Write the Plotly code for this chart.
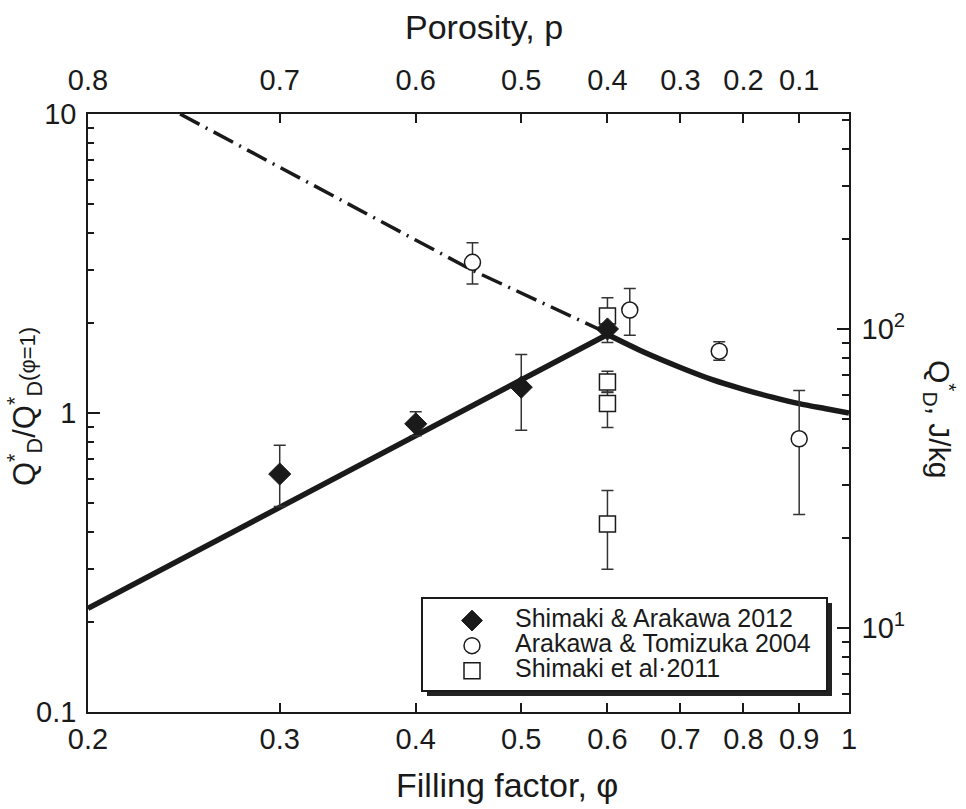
import math
import plotly.graph_objects as go

# ---------------- data ----------------
# Shimaki & Arakawa 2012 (filled diamonds)
sa_phi = [0.3, 0.4, 0.5, 0.6]
sa_q = [0.625, 0.92, 1.22, 1.91]
sa_err_plus = [0.155, 0.09, 0.35, 0.0]
sa_err_minus = [0.138, 0.08, 0.345, 0.0]

# Arakawa & Tomizuka 2004 (open circles)
at_phi = [0.451, 0.629, 0.760, 0.90]
at_q = [3.19, 2.21, 1.61, 0.82]
at_err_plus = [0.52, 0.40, 0.12, 0.37]
at_err_minus = [0.49, 0.39, 0.11, 0.362]

# Shimaki et al. 2011 (open squares)
s11_phi = [0.6, 0.6, 0.6, 0.6]
s11_q = [2.11, 1.27, 1.075, 0.425]
s11_err_plus = [0.32, 0.11, 0.10, 0.126]
s11_err_minus = [0.39, 0.10, 0.18, 0.125]

# model curves
solid_phi = [0.2, 0.6, 0.65, 0.70, 0.75, 0.80, 0.85, 0.90, 0.95, 1.0]
solid_q = [0.222, 1.83, 1.59, 1.42, 1.29, 1.20, 1.13, 1.075, 1.035, 1.0]
dash_phi = [0.243, 0.375, 0.451, 0.6]
dash_q = [10.0, 4.3, 3.0, 1.85]

# axis ticks
x_tickvals = [0.2, 0.3, 0.4, 0.5, 0.6, 0.7, 0.8, 0.9, 1.0]
x_ticktext = ["0.2", "0.3", "0.4", "0.5", "0.6", "0.7", "0.8", "0.9", "1"]
top_tickvals = [0.2, 0.3, 0.4, 0.5, 0.6, 0.7, 0.8, 0.9]
top_ticktext = ["0.8", "0.7", "0.6", "0.5", "0.4", "0.3", "0.2", "0.1"]
y_tickvals = [0.1, 1, 10]
y_ticktext = ["0.1", "1", "10"]
y_minor = [0.2, 0.3, 0.4, 0.5, 0.6, 0.7, 0.8, 0.9, 2, 3, 4, 5, 6, 7, 8, 9]
qd_tickvals = [10, 100]
qd_ticktext = ["10<sup>1</sup>", "10<sup>2</sup>"]
qd_minor = [6, 7, 8, 9, 20, 30, 40, 50, 60, 70, 80, 90, 200, 300, 400, 500]
qd_ref = 52.3  # Q_D*(phi=1) in J/kg, maps left axis onto right axis

FONT = "Liberation Sans, Arial, Helvetica, sans-serif"
INK = "#1a1a1a"

fig = go.Figure()

fig.add_trace(go.Scatter(
    x=dash_phi, y=dash_q, mode="lines", showlegend=False,
    line=dict(color=INK, width=3.5, dash="22px,7px,2px,7px"), hoverinfo="skip"))
# rising branch (straight in log-log) and smooth falling branch
fig.add_trace(go.Scatter(
    x=solid_phi[:2], y=solid_q[:2], mode="lines", showlegend=False,
    line=dict(color=INK, width=5.5), hoverinfo="skip"))
fig.add_trace(go.Scatter(
    x=solid_phi[1:], y=solid_q[1:], mode="lines", showlegend=False,
    line=dict(color=INK, width=5.5, shape="spline", smoothing=0.8), hoverinfo="skip"))

err_style = dict(type="data", symmetric=False, color="#333333", thickness=1.5, width=6)
LEG = "<span style='font-size:25px'>%s</span>"

fig.add_trace(go.Scatter(
    x=at_phi, y=at_q, mode="markers",
    name=LEG % "Arakawa & Tomizuka 2004", legendrank=2,
    marker=dict(symbol="circle", size=16, color="white", line=dict(color=INK, width=1.5)),
    error_y=dict(array=at_err_plus, arrayminus=at_err_minus, **err_style)))
fig.add_trace(go.Scatter(
    x=s11_phi, y=s11_q, mode="markers",
    name=LEG % "Shimaki et al·2011", legendrank=3,
    marker=dict(symbol="square", size=16, color="white", line=dict(color=INK, width=1.5)),
    error_y=dict(array=s11_err_plus, arrayminus=s11_err_minus, **err_style)))
fig.add_trace(go.Scatter(
    x=sa_phi, y=sa_q, mode="markers",
    name=LEG % "Shimaki & Arakawa 2012", legendrank=1,
    marker=dict(symbol="diamond", size=17, color=INK, line=dict(color=INK, width=1)),
    error_y=dict(array=sa_err_plus, arrayminus=sa_err_minus, **err_style)))

# empty trace that activates the porosity (top) and Q_D (right) axes
fig.add_trace(go.Scatter(x=[None], y=[None], xaxis="x2", yaxis="y2",
                         showlegend=False, hoverinfo="skip"))

L, R, T, B = 88, 966 - 849, 114, 809 - 712
W, H = 966 - L - R, 809 - T - B


def px_x(p):
    return (p - L) / W


def px_y(p):
    return (809 - B - p) / H


axis_common = dict(
    showgrid=False, zeroline=False, showline=True, linecolor=INK, linewidth=1.5,
    ticks="inside", tickcolor=INK, tickwidth=1.5,
    tickfont=dict(family=FONT, size=29, color=INK),
)

xr = [math.log10(0.2), 0]
fig.update_layout(
    width=966, height=809,
    margin=dict(l=L, r=R, t=T, b=B),
    paper_bgcolor="white", plot_bgcolor="white",
    font=dict(family=FONT, color=INK),
    xaxis=dict(type="log", range=xr, tickmode="array", tickvals=x_tickvals,
               ticktext=x_ticktext, ticklen=9, ticklabelstandoff=0, **axis_common),
    xaxis2=dict(type="log", range=xr, overlaying="x", side="top", anchor="y",
                tickmode="array", tickvals=top_tickvals, ticktext=top_ticktext,
                ticklen=9, ticklabelstandoff=11, **axis_common),
    yaxis=dict(type="log", range=[-1, 1], tickmode="array", tickvals=y_tickvals,
               ticktext=y_ticktext, ticklen=12, ticklabelstandoff=4,
               minor=dict(tickmode="array", tickvals=y_minor, ticklen=6,
                          ticks="inside", tickcolor=INK, tickwidth=1.5),
               **axis_common),
    yaxis2=dict(type="log", overlaying="y", side="right", anchor="x",
                range=[-1 + math.log10(qd_ref), 1 + math.log10(qd_ref)],
                tickmode="array", tickvals=qd_tickvals, ticktext=qd_ticktext,
                ticklen=12, ticklabelstandoff=5,
                minor=dict(tickmode="array", tickvals=qd_minor, ticklen=7,
                           ticks="inside", tickcolor=INK, tickwidth=1.5),
                **axis_common),
    showlegend=True,
    legend=dict(x=px_x(429), y=px_y(603), xanchor="left", yanchor="top",
                bgcolor="rgba(0,0,0,0)", borderwidth=0, itemwidth=76,
                font=dict(family=FONT, size=17, color=INK), traceorder="normal"),
)

# legend frame with drop shadow
fig.add_shape(type="rect", xref="paper", yref="paper", layer="above",
              x0=px_x(427), x1=px_x(832), y0=px_y(696), y1=px_y(603),
              fillcolor="#222222", line=dict(width=0))
fig.add_shape(type="rect", xref="paper", yref="paper", layer="above",
              x0=px_x(422), x1=px_x(827), y0=px_y(691), y1=px_y(598),
              fillcolor="white", line=dict(color=INK, width=2))

# axis titles
fig.add_annotation(text="Porosity, p", xref="paper", yref="paper",
                   x=px_x(484), y=px_y(27), showarrow=False, xanchor="center", yanchor="middle",
                   font=dict(family=FONT, size=34, color=INK))
fig.add_annotation(text="Filling factor, φ", xref="paper", yref="paper",
                   x=px_x(507), y=px_y(785), showarrow=False, xanchor="center", yanchor="middle",
                   font=dict(family=FONT, size=34, color=INK))
fig.add_annotation(text="Q<sup>*</sup><sub>D</sub>/Q<sup>*</sup><sub>D</sub><span style='font-size:22px'>(φ=1)</span>",
                   xref="paper", yref="paper", x=px_x(24), y=px_y(407), textangle=-90,
                   showarrow=False, xanchor="center", yanchor="middle",
                   font=dict(family=FONT, size=31, color=INK))
fig.add_annotation(text="Q<sup>*</sup><sub>D</sub>, J/kg",
                   xref="paper", yref="paper", x=px_x(940), y=px_y(419), textangle=90,
                   showarrow=False, xanchor="center", yanchor="middle",
                   font=dict(family=FONT, size=30, color=INK))

fig.write_html("out.html", config={"displayModeBar": False},
               post_script="document.body.style.margin='0px';")
